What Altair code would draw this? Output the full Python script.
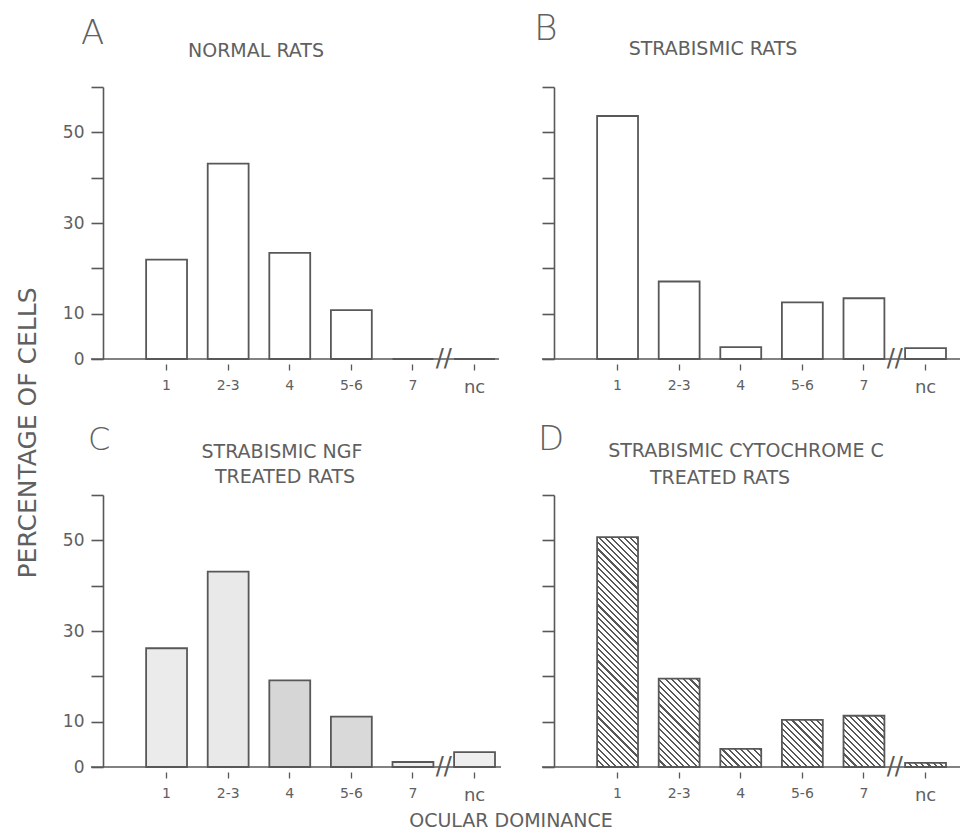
import math
import altair as alt
import pandas as pd

# ---------------- data ----------------
categories = ["1", "2-3", "4", "5-6", "7", "nc"]
normal_rats = [21.9, 43.1, 23.4, 10.8, 0.0, 0.0]
strabismic_rats = [53.6, 17.1, 2.6, 12.5, 13.4, 2.4]
ngf_treated = [26.2, 43.1, 19.1, 11.1, 1.1, 3.3]
cytc_treated = [50.7, 19.5, 4.0, 10.4, 11.3, 0.9]

y_ticks = [0, 10, 20, 30, 40, 50, 60]
y_labelled = [0, 10, 30, 50]

# ---------------- style ----------------
FONT = "DejaVu Sans"
LINE = "#585858"
TEXT = "#606060"
W, H = 392, 272
PI, PO = 0.336, 0.35
STEP = W / (len(categories) - PI + 2 * PO)
BANDW = STEP * (1 - PI)


def hatch(w, h, period=4.4, thick=1.5, line=LINE, bg="#ffffff"):
    """Diagonal (\\) hatch built as a striped linear gradient."""
    k = (w + h) / (w * w + h * h)
    x2, y2 = k * w, 1 - k * h
    total = (w + h) / math.sqrt(2)
    n = total / period
    stops = []
    i = 0
    while i / n < 1:
        a = i / n
        b = min((i + thick / period) / n, 1)
        c = min((i + 1) / n, 1)
        stops += [(a, line), (b, line), (b, bg), (c, bg)]
        i += 1
    return {
        "gradient": "linear",
        "x1": 0, "y1": 1, "x2": round(x2, 5), "y2": round(y2, 5),
        "stops": [{"offset": round(o, 5), "color": col} for o, col in stops],
    }


def panel(values, letter, letter_pos, letter_size, lines, fills, left, axis_end, extra=None):
    df = pd.DataFrame({"od": categories, "pct": values})
    label_expr = " || ".join(f"datum.value == {v}" for v in y_labelled)
    x_enc = alt.X(
        "od:N",
        scale=alt.Scale(domain=categories, paddingInner=PI, paddingOuter=PO, align=1),
        axis=alt.Axis(
            title=None, domain=False, labelAngle=0, labelFont=FONT,
            labelColor=TEXT, labelPadding=8, labelBaseline="top",
            labelFontSize={"condition": {"test": "datum.value == 'nc'", "value": 18}, "value": 14},
            ticks=True, tickSize=11, tickColor=LINE, tickWidth=1.3, tickDash=[0, 5, 6, 6],
        ),
    )
    y_axis = alt.Axis(
        title=None, values=y_ticks, grid=False, domainColor=LINE, domainWidth=1.6,
        tickColor=LINE, tickWidth=1.6, tickSize=12, labels=left,
        labelFont=FONT, labelFontSize=17, labelColor=TEXT, labelPadding=7,
        labelExpr=f"({label_expr}) ? datum.label : ''",
    )
    y_enc = alt.Y("pct:Q", scale=alt.Scale(domain=[0, 60], nice=False, zero=True), axis=y_axis)

    layers = []
    for cat, fill in zip(categories, fills):
        layers.append(
            alt.Chart(df)
            .transform_filter(alt.datum.od == cat)
            .mark_bar(fill=fill, stroke=LINE, strokeWidth=1.8)
            .encode(x=x_enc, y=y_enc)
        )
    # x axis line (extends a little left of the y axis)
    layers.append(
        alt.Chart(df.head(1)).mark_rule(color=LINE, strokeWidth=1.6)
        .encode(y=alt.datum(0), x=alt.value(-12), x2=alt.value(axis_end))
    )
    # axis break //
    layers.append(
        alt.Chart(df.head(1)).mark_text(text="//", font=FONT, fontSize=24, color=LINE,
                                         baseline="middle", xOffset=-STEP / 2)
        .encode(x=alt.datum("nc"), y=alt.datum(0))
    )
    # panel letter
    layers.append(
        alt.Chart(pd.DataFrame({"t": [letter]}))
        .mark_text(font=FONT, fontSize=letter_size, fontWeight=200, color=TEXT, align="left",
                   baseline="top")
        .encode(text="t:N", x=alt.value(letter_pos[0]), y=alt.value(letter_pos[1]))
    )
    for txt, cx, by in lines:
        layers.append(
            alt.Chart(pd.DataFrame({"t": [txt]}))
            .mark_text(font=FONT, fontSize=19, color=TEXT, align="center", baseline="alphabetic")
            .encode(text="t:N", x=alt.value(cx), y=alt.value(by))
        )
    if extra:
        layers += extra
    return alt.layer(*layers).properties(width=W, height=H)


white = ["#ffffff"] * 6
ngf_fills = ["#ebebeb", "#e9e9e9", "#d6d6d6", "#d9d9d9", "#eeeeee", "#eeeeee"]
cyt_fills = [hatch(BANDW, v / 60 * H) for v in cytc_treated]

y_title = (
    alt.Chart(pd.DataFrame({"t": ["PERCENTAGE OF CELLS"]}))
    .mark_text(font=FONT, fontSize=25, color=TEXT, angle=270, align="center", baseline="alphabetic")
    .encode(text="t:N", x=alt.value(-67), y=alt.value(346))
)
x_title = (
    alt.Chart(pd.DataFrame({"t": ["OCULAR DOMINANCE"]}))
    .mark_text(font=FONT, fontSize=19, color=TEXT, align="center", baseline="alphabetic")
    .encode(text="t:N", x=alt.value(408), y=alt.value(332))
)

pA = panel(normal_rats, "A", (-22, -70), 34, [("NORMAL RATS", 153, -30)], white, True, W + 4, [y_title])
pB = panel(strabismic_rats, "B", (-20, -75), 36, [("STRABISMIC RATS", 159, -32)], white, False, W + 14)
pC = panel(ngf_treated, "C", (-15, -70), 32,
           [("STRABISMIC NGF", 179, -37), ("TREATED RATS", 182, -12)], ngf_fills, True, W + 6, [x_title])
pD = panel(cytc_treated, "D", (-16, -72), 34,
           [("STRABISMIC CYTOCHROME C", 192, -38), ("TREATED RATS", 166, -11)], cyt_fills, False, W + 14)

chart = (
    alt.concat(pA, pB, pC, pD, columns=2, spacing={"row": 136, "column": 59}, bounds="flush")
    .properties(padding={"left": 8, "top": 3, "right": 0, "bottom": 0}, background="white")
    .configure_view(stroke=None)
)

chart.save("out.html", embed_options={"renderer": "svg", "actions": False})
